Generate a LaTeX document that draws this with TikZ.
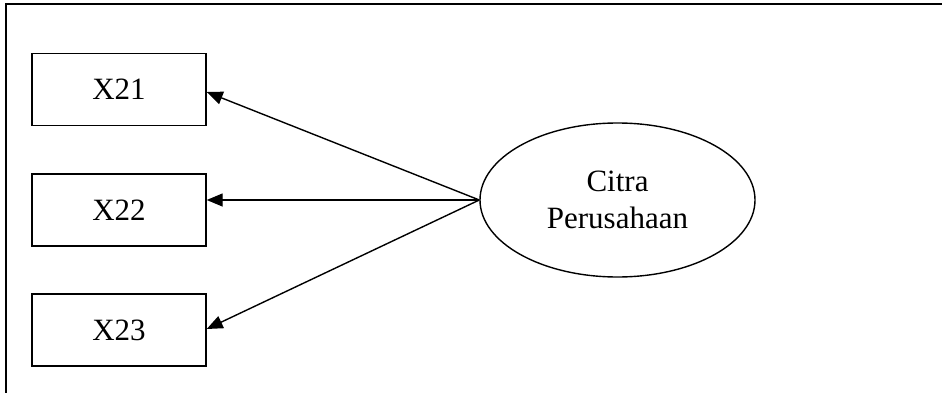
\documentclass[tikz,border=0pt]{standalone}
\usepackage{fontspec}
\setmainfont{Liberation Serif}
\usetikzlibrary{arrows.meta,shapes.geometric}
\begin{document}
\begin{tikzpicture}[x=1pt,y=-1pt,
  line width=1.4pt,
  indbox/.style={draw,rectangle,minimum width=174pt,minimum height=72pt,inner sep=0pt,font=\fontsize{31}{37}\selectfont},
  latent/.style={draw,ellipse,minimum width=275pt,minimum height=154pt,inner sep=0pt,align=center,font=\fontsize{31}{37}\selectfont},
  loading/.style={-{Triangle[length=16pt,width=13pt]}}]
\useasboundingbox (0,0) rectangle (942,393);
% open frame: top and left edges
\draw (942,4) -- (6,4) -- (6,393);
% indicator boxes
\node[indbox] (x21) at (119,89.5) {X21};
\node[indbox] (x22) at (119,210) {X22};
\node[indbox] (x23) at (119,330) {X23};
% latent construct
\node[latent] (cp) at (617.5,200) {Citra\\Perusahaan};
% loadings
\coordinate (src) at (cp.west);
\draw[loading] (src) -- (x21.east |- 0,92);
\draw[loading] (src) -- (x22.east |- src);
\draw[loading] (src) -- (x23.east |- 0,329);
\end{tikzpicture}
\end{document}
